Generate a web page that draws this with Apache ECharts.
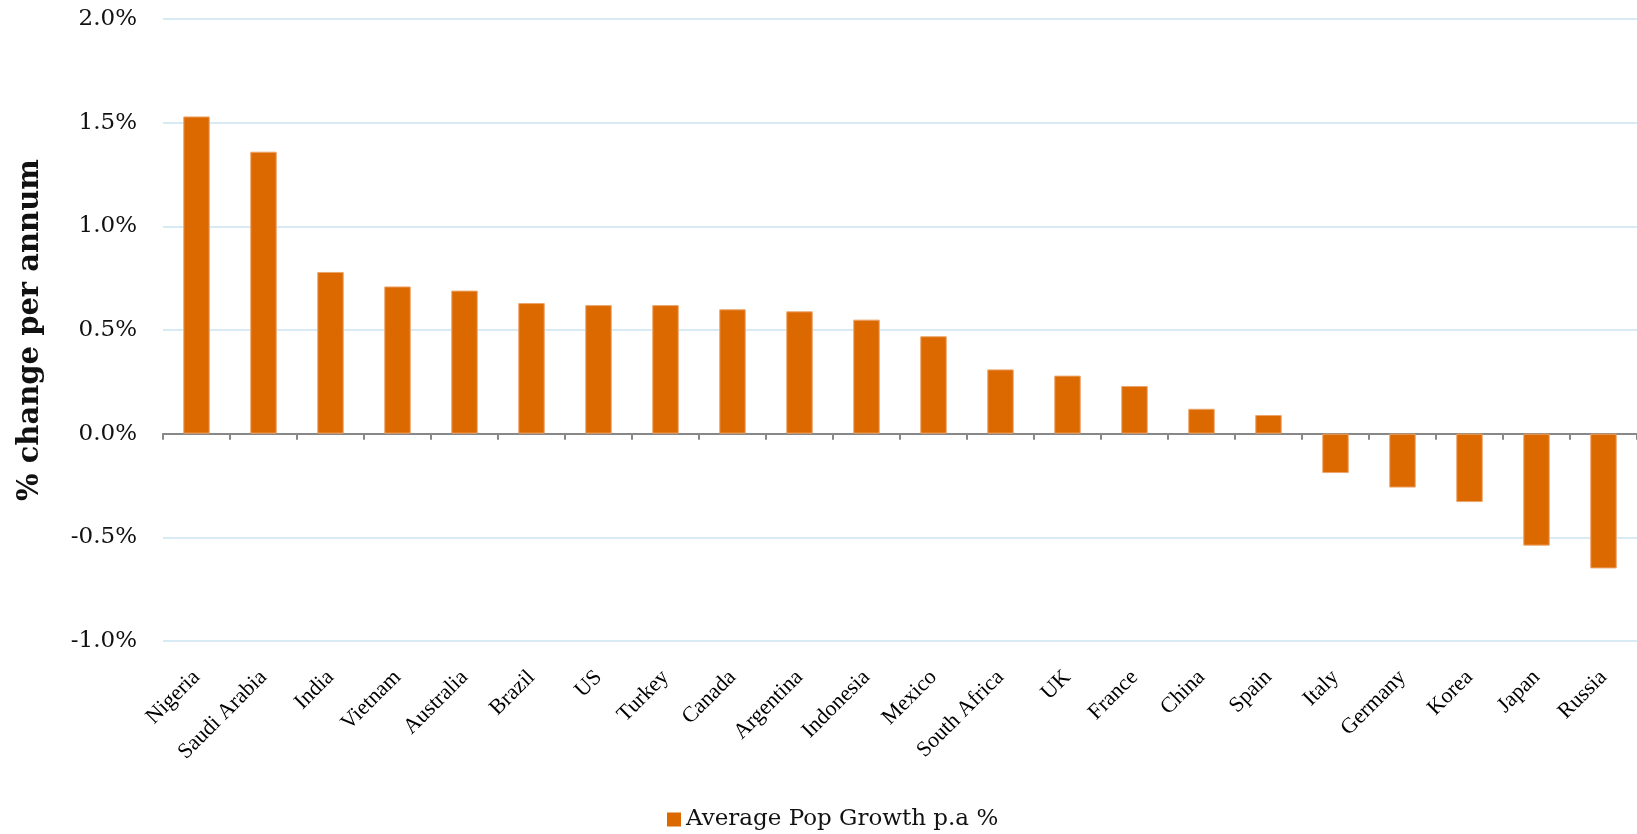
<!DOCTYPE html>
<html>
<head>
<meta charset="utf-8">
<title>Average Pop Growth p.a %</title>
<script src="https://cdn.jsdelivr.net/npm/echarts@6/dist/echarts.min.js"></script>
<style>
  html, body { margin: 0; padding: 0; background: #ffffff; }
  #chart { width: 1637px; height: 834px; }
</style>
</head>
<body>
<div id="chart"></div>
<script>
// Countries, ordered from fastest to slowest average population growth
const countries = [
  'Nigeria', 'Saudi Arabia', 'India', 'Vietnam', 'Australia', 'Brazil', 'US',
  'Turkey', 'Canada', 'Argentina', 'Indonesia', 'Mexico', 'South Africa', 'UK',
  'France', 'China', 'Spain', 'Italy', 'Germany', 'Korea', 'Japan', 'Russia'
];

// Average population growth per annum, in percent
const growth = [
  1.53, 1.36, 0.78, 0.71, 0.69, 0.63, 0.62,
  0.62, 0.60, 0.59, 0.55, 0.47, 0.31, 0.28,
  0.23, 0.12, 0.09, -0.19, -0.26, -0.33, -0.54, -0.65
];

// Value axis range and step
const yMin = -1.0;
const yMax = 2.0;
const yStep = 0.5;

const seriesName = 'Average Pop Growth p.a %';
const axisTitle = '% change per annum';

const chart = echarts.init(document.getElementById('chart'), null, { renderer: 'canvas' });

chart.setOption({
  animation: false,
  backgroundColor: '#ffffff',
  grid: { left: 163, right: -9, top: 19, bottom: 193, containLabel: false },
  legend: {
    left: 662,
    top: 803,
    itemWidth: 14,
    itemHeight: 14,
    itemGap: 10,
    icon: 'rect',
    itemStyle: { borderWidth: 0 },
    textStyle: { fontFamily: 'DejaVu Serif', fontSize: 23, color: '#111111' },
    data: [seriesName]
  },
  xAxis: [
    {
      // axis line through zero with a tick at every category boundary
      type: 'category',
      data: countries,
      boundaryGap: true,
      axisLine: { show: true, onZero: true, lineStyle: { color: '#888888', width: 2 } },
      axisTick: { show: true, interval: 0, alignWithLabel: false, length: 6, lineStyle: { color: '#888888', width: 2 } },
      axisLabel: { show: false },
      splitLine: { show: false }
    },
    {
      // category names along the bottom of the plot
      type: 'category',
      data: countries,
      position: 'bottom',
      boundaryGap: true,
      axisLine: { show: false, onZero: false },
      axisTick: { show: false },
      splitLine: { show: false },
      axisLabel: {
        show: true,
        interval: 0,
        rotate: 45,
        margin: 33,
        fontFamily: 'Liberation Serif',
        fontSize: 22,
        color: '#000000'
      }
    }
  ],
  yAxis: {
    type: 'value',
    min: yMin,
    max: yMax,
    interval: yStep,
    name: axisTitle,
    nameLocation: 'middle',
    nameGap: 118,
    nameTextStyle: { fontFamily: 'DejaVu Serif', fontWeight: 'bold', fontSize: 29, color: '#111111' },
    axisLine: { show: false },
    axisTick: { show: false },
    axisLabel: {
      margin: 26,
      fontFamily: 'DejaVu Serif',
      fontSize: 23,
      color: '#111111',
      formatter: v => v.toFixed(1) + '%'
    },
    splitLine: { show: true, lineStyle: { color: '#d8eaf4', width: 2 } }
  },
  series: [
    {
      name: seriesName,
      type: 'bar',
      xAxisIndex: 0,
      data: growth,
      barWidth: '39.5%',
      itemStyle: { color: '#dc6900', borderColor: '#eca46a', borderWidth: 1 }
    }
  ]
});
</script>
</body>
</html>
